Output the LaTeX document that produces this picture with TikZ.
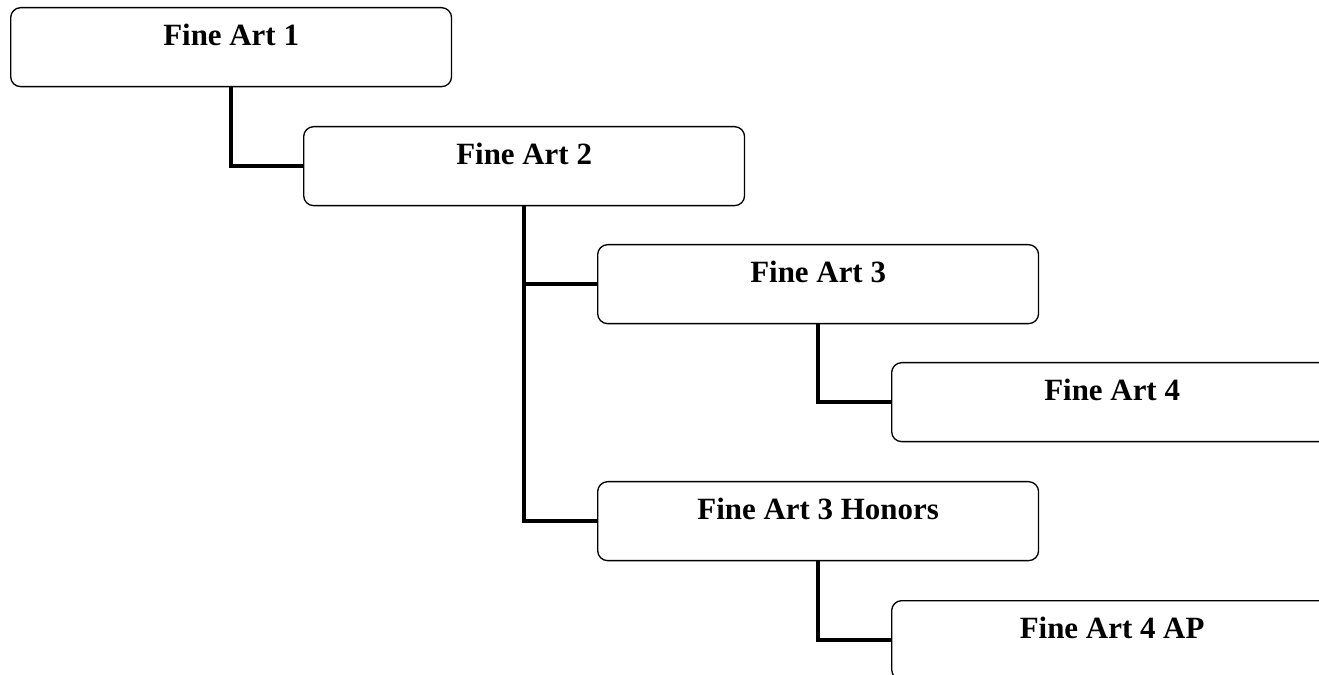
\documentclass[tikz,border=0pt]{standalone}
\usepackage{fontspec}
\setmainfont{Liberation Serif}
\tikzset{
  course/.style={draw, line width=0.75pt, rounded corners=0.2cm, anchor=north west,
    minimum width=8.82cm, inner xsep=0pt, inner ysep=0pt,
    text height=0.75cm, text depth=0.83cm,
    font=\bfseries\fontsize{17.6}{20}\selectfont},
  link/.style={line width=2.6pt}
}
\begin{document}
\begin{tikzpicture}[x=0.02cm, y=-0.02cm]
    \useasboundingbox (0,0) rectangle (1319,675);
    \clip (0,0) rectangle (1319,675);
    % course boxes
    \node[course] (fa1) at (10,7) {Fine Art 1};
    \node[course] (fa2) at (303,126) {Fine Art 2};
    \node[course] (fa3) at (597,244) {Fine Art 3};
    \node[course] (fa4) at (891,362) {Fine Art 4};
    \node[course] (fa3h) at (597,481) {Fine Art 3 Honors};
    \node[course] (fa4ap) at (891,600) {Fine Art 4 AP};

    % connectors
    \draw[link] (fa1.south) |- (fa2.west);
    \draw[link] (fa2.south) |- (fa3.west);
    \draw[link] (fa2.south) |- (fa3h.west);
    \draw[link] (fa3.south) |- (fa4.west);
    \draw[link] (fa3h.south) |- (fa4ap.west);
\end{tikzpicture}
\end{document}
